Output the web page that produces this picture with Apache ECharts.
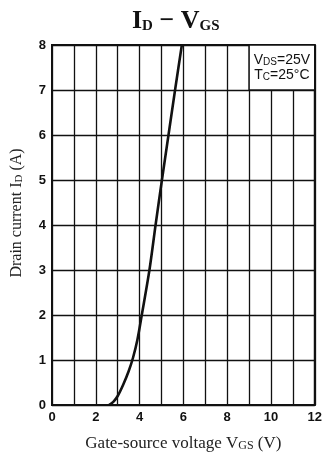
<!DOCTYPE html>
<html>
<head>
<meta charset="utf-8">
<script src="https://cdn.jsdelivr.net/npm/echarts@6/dist/echarts.min.js"></script>
<style>
  html,body{margin:0;padding:0;background:#fff;}
  #chart{width:325px;height:457px;}
</style>
</head>
<body>
<div id="chart"></div>
<script>
// curve
var vgs = [2.6, 2.8, 3.0, 3.25, 3.5, 3.7, 3.9, 4.1, 4.45, 4.73, 5.02, 5.32, 5.62, 5.93];
var idA = [0, 0.07, 0.2, 0.45, 0.75, 1.05, 1.45, 2.0, 3.0, 4.0, 5.0, 6.0, 7.0, 8.0];
var xTicks = [0, 2, 4, 6, 8, 10, 12];
var yTicks = [0, 1, 2, 3, 4, 5, 6, 7, 8];
var noteBox = [[9, 7], [12, 8]];

var serif = '"Liberation Serif", "DejaVu Serif", serif';
var sans = '"Liberation Sans Narrow", "Liberation Sans", Arial, sans-serif';

var points = vgs.map(function (v, i) { return [v, idA[i]]; });

var option = {
  animation: false,
  title: {
    text: '{b|I}{s|D}{b| − V}{s|GS}',
    left: 127,
    top: 1,
    textStyle: {
      rich: {
        b: { fontFamily: serif, fontWeight: 'bold', fontSize: 26, color: '#111', verticalAlign: 'bottom', lineHeight: 28 },
        s: { fontFamily: serif, fontWeight: 'bold', fontSize: 15, color: '#111', verticalAlign: 'bottom', lineHeight: 22 }
      }
    }
  },
  grid: {
    left: 52, top: 45, width: 267, height: 361,
    show: true, borderColor: '#111', borderWidth: 2
  },
  xAxis: {
    type: 'value',
    min: 0, max: 12, interval: 1,
    name: 'Gate-source voltage V{s|GS} (V)',
    nameLocation: 'middle',
    nameGap: 30,
    nameTextStyle: {
      fontFamily: serif, fontSize: 17, color: '#222', padding: [0, 0, 0, 0],
      rich: { s: { fontFamily: serif, fontSize: 12, color: '#222', verticalAlign: 'bottom', lineHeight: 15 } }
    },
    axisLine: { lineStyle: { color: '#111', width: 2 } },
    axisTick: { show: false },
    axisLabel: {
      margin: 6, fontFamily: sans, fontWeight: 'bold', fontSize: 13, color: '#111',
      formatter: function (v) { return xTicks.indexOf(v) >= 0 ? String(v) : ''; }
    },
    splitLine: { show: true, lineStyle: { color: '#111', width: 1.3 } }
  },
  yAxis: {
    type: 'value',
    min: 0, max: 8, interval: 1,
    name: 'Drain current I{s|D} (A)',
    nameLocation: 'middle',
    nameGap: 27,
    nameTextStyle: {
      fontFamily: serif, fontSize: 16, color: '#222', padding: [0, 0, 0, 24],
      rich: { s: { fontFamily: serif, fontSize: 11, color: '#222', verticalAlign: 'bottom', lineHeight: 14 } }
    },
    axisLine: { lineStyle: { color: '#111', width: 2 } },
    axisTick: { show: false },
    axisLabel: {
      margin: 6, fontFamily: sans, fontWeight: 'bold', fontSize: 13, color: '#111',
      formatter: function (v) { return yTicks.indexOf(v) >= 0 ? String(v) : ''; }
    },
    splitLine: { show: true, lineStyle: { color: '#111', width: 1.3 } }
  },
  series: [{
    type: 'line',
    data: points,
    smooth: 0.3,
    symbol: 'none',
    clip: true,
    lineStyle: { color: '#111', width: 2.6 },
    markArea: {
      silent: true,
      itemStyle: { color: '#fff', borderColor: '#111', borderWidth: 1.5 },
      label: {
        show: true,
        position: 'inside',
        formatter: '{n|V}{s|DS}{n|=25V}\n{n|T}{s|C}{n|=25°C}',
        rich: {
          n: { fontFamily: sans, fontSize: 14, color: '#111', verticalAlign: 'bottom', lineHeight: 15 },
          s: { fontFamily: sans, fontSize: 10, color: '#111', verticalAlign: 'bottom', lineHeight: 12 }
        }
      },
      data: [[{ coord: noteBox[0] }, { coord: noteBox[1] }]]
    }
  }]
};

var myChart = echarts.init(document.getElementById('chart'));
myChart.setOption(option);
window.addEventListener('resize', function () { myChart.resize(); }, false);
</script>
</body>
</html>
